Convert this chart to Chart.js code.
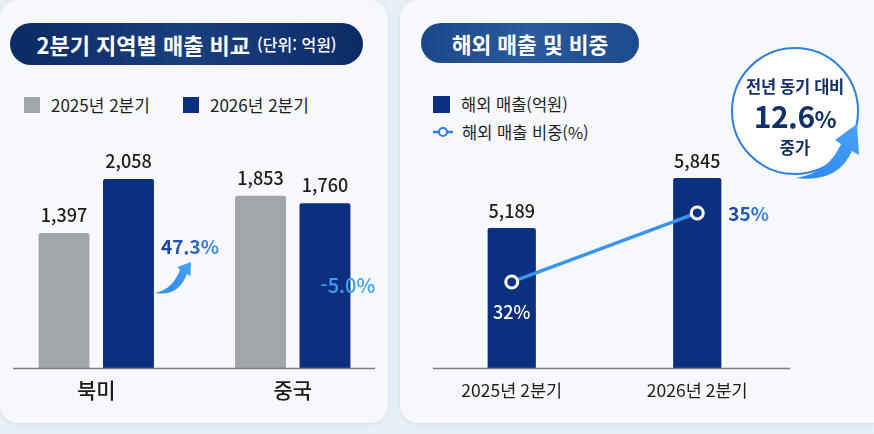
<!DOCTYPE html>
<html lang="ko">
<head>
<meta charset="utf-8">
<script src="https://cdn.jsdelivr.net/npm/chart.js@4.4.1/dist/chart.umd.min.js"></script>
<style>
    body { margin: 0; width: 874px; height: 434px; overflow: hidden; background: #e8eef7; font-family: "Noto Sans CJK KR", "Noto Sans", sans-serif; color: #1e1e1e; position: relative; }
    .card { position: absolute; top: 0; height: 423px; background: #f6f8fb; border-radius: 18px; box-shadow: 0 1px 4px rgba(40,70,120,0.08); }
    .pill { position: absolute; display: flex; align-items: center; justify-content: center; color: #fff; font-weight: 700; border-radius: 22px; white-space: nowrap; }
    .legend { position: absolute; display: flex; align-items: center; font-size: 17px; white-space: nowrap; }
    .sw { display: inline-block; width: 16px; height: 16px; margin-right: 11px; }
    canvas { position: absolute; top: 0; }
    .badge { position: absolute; left: 731px; top: 47px; width: 124px; height: 124px; border: 2px solid #2f7fe0; border-radius: 50%; background: #fff; text-align: center; color: #13306b; font-weight: 700; }
    svg { position: absolute; left: 0; top: 0; }
</style>
</head>
<body>
<div class="card" style="left:0; width:388px;"></div>
<div class="card" style="left:400px; width:490px;"></div>

<div class="pill" style="left:10px; top:23px; width:353px; height:42px; background:linear-gradient(90deg,#0b2a64,#1a3f7f 50%,#0c2b66);">
    <span style="font-size:22px;">2분기 지역별 매출 비교</span><span style="font-size:16px; font-weight:500; margin-left:7px;">(단위: 억원)</span>
</div>
<div class="pill" style="left:421px; top:23px; width:218px; height:40px; background:linear-gradient(90deg,#1a4788,#2b5b9c 50%,#1c4a8b); font-size:21.5px;">해외 매출 및 비중</div>

<div class="legend" style="left:24px; top:92px;"><span class="sw" style="background:#a2a5aa;"></span>2025년 2분기</div>
<div class="legend" style="left:183px; top:92px;"><span class="sw" style="background:#0c2f80;"></span>2026년 2분기</div>

<div class="legend" style="left:433px; top:92px; font-size:16.5px;"><span class="sw" style="background:#0c2f80; width:17px; height:17px;"></span>해외 매출(억원)</div>
<div class="legend" style="left:433px; top:120px; font-size:16.5px;">
    <svg width="22" height="12" style="position:static; margin-right:7px;"><line x1="0" y1="6" x2="20" y2="6" stroke="#2f7fe0" stroke-width="2.5"/><circle cx="10" cy="6" r="4" fill="#fff" stroke="#2f7fe0" stroke-width="2.2"/></svg>해외 매출 비중(%)
</div>

<canvas id="chartRegion" width="394" height="434" style="left:-2px;"></canvas>
<canvas id="chartOverseas" width="474" height="434" style="left:400px;"></canvas>

<div class="badge">
    <div style="font-size:16.5px; margin-top:25px; letter-spacing:-0.3px;">전년 동기 대비</div>
    <div id="badgeValue" style="font-size:30px; line-height:34px; margin-top:0px; letter-spacing:-0.5px;"></div>
    <div style="font-size:16.5px; margin-top:0px;">중가</div>
</div>

<svg width="874" height="434" viewBox="0 0 874 434">
    <defs>
        <linearGradient id="arrowGrad" x1="0" y1="1" x2="1" y2="0">
            <stop offset="0" stop-color="#2a86ec"/>
            <stop offset="1" stop-color="#4aa3f7"/>
        </linearGradient>
    </defs>
    <path d="M155,293 Q172,290 180,270 L177.5,267 L191,262 L190.5,276.3 L187,274 Q178,297 155,293 Z" fill="url(#arrowGrad)"/>
    <path d="M796,178 Q828,173 841,144 L835,140 L857,124 L859,155 L852,151 Q838,183 796,178 Z" fill="url(#arrowGrad)"/>
</svg>

<script>
    // data
    const regions = ['북미', '중국']
    const sales2025 = [1397, 1853]
    const sales2026 = [2058, 1760]

    const periods = ['2025년 2분기', '2026년 2분기']
    const overseasSales = [5189, 5845]
    const overseasShare = [32, 35]

    const NAVY = '#0c2f80'
    const GRAY = '#a2a5aa'
    const FONT = '"Noto Sans CJK KR", "Noto Sans", sans-serif'

    const fmt = (v) => v.toLocaleString('en-US')
    const pct = (a, b) => ((b - a) / a * 100).toFixed(1)

    document.getElementById('badgeValue').innerHTML =
        pct(overseasSales[0], overseasSales[1]) + '<span style="font-size:23px;">%</span>'

    const gradText = (ctx, x, w) => {
        let g = ctx.createLinearGradient(x, 0, x + w, 0)
        g.addColorStop(0, '#1b3d9c')
        g.addColorStop(0.6, '#2a64c8')
        g.addColorStop(1, '#3f97f2')
        return g
    }

    const regionLabels = {
        id: 'regionLabels',
        afterDatasetsDraw(chart) {
            const ctx = chart.ctx
            const area = chart.chartArea
            const xs = chart.scales.x

            ctx.save()
            // baseline
            ctx.strokeStyle = '#7a7e86'
            ctx.lineWidth = 1.5
            ctx.beginPath()
            ctx.moveTo(area.left + 15, area.bottom + 0.5)
            ctx.lineTo(area.right - 16, area.bottom + 0.5)
            ctx.stroke()

            // values above bars
            ctx.font = '500 18px ' + FONT
            ctx.fillStyle = '#1c1c1c'
            ctx.textAlign = 'center'
            ctx.textBaseline = 'middle'
            chart.data.datasets.forEach((ds, di) => {
                chart.getDatasetMeta(di).data.forEach((bar, i) => {
                    ctx.fillText(fmt(ds.data[i]), bar.x, bar.y - 18)
                })
            })

            // categories
            ctx.font = '500 21px ' + FONT
            regions.forEach((r, i) => ctx.fillText(r, xs.getPixelForValue(i), area.bottom + 22))

            // change labels
            const newBars = chart.getDatasetMeta(1).data
            ctx.textAlign = 'left'
            regions.forEach((r, i) => {
                let txt = pct(sales2025[i], sales2026[i]) + '%'
                let bar = newBars[i]
                if (sales2026[i] >= sales2025[i]) {
                    ctx.font = '700 19px ' + FONT
                    let x = bar.x + bar.width / 2 + 7
                    let w = ctx.measureText(txt).width
                    ctx.fillStyle = gradText(ctx, x, w)
                    ctx.fillText(txt, x, (bar.y + bar.base) / 2 - 27)
                } else {
                    ctx.font = '500 20px ' + FONT
                    ctx.fillStyle = '#3fa0f2'
                    ctx.fillText(txt, bar.x - bar.width / 2 + 21, (bar.y + bar.base) / 2)
                }
            })
            ctx.restore()
        }
    }

    const overseasLabels = {
        id: 'overseasLabels',
        afterDatasetsDraw(chart) {
            const ctx = chart.ctx
            const area = chart.chartArea
            const xs = chart.scales.x

            ctx.save()
            ctx.strokeStyle = '#7a7e86'
            ctx.lineWidth = 1.5
            ctx.beginPath()
            ctx.moveTo(area.left + 14, area.bottom + 0.5)
            ctx.lineTo(area.right, area.bottom + 0.5)
            ctx.stroke()

            ctx.textAlign = 'center'
            ctx.textBaseline = 'middle'
            ctx.font = '500 18px ' + FONT
            ctx.fillStyle = '#1c1c1c'
            chart.getDatasetMeta(1).data.forEach((bar, i) => {
                ctx.fillText(fmt(overseasSales[i]), bar.x, bar.y - 17)
            })

            ctx.font = '400 17.5px ' + FONT
            periods.forEach((p, i) => ctx.fillText(p, xs.getPixelForValue(i), area.bottom + 22))

            const pts = chart.getDatasetMeta(0).data
            // first share label sits inside the bar, second to the right
            ctx.font = '500 18px ' + FONT
            ctx.fillStyle = '#ffffff'
            ctx.fillText(overseasShare[0] + '%', pts[0].x, pts[0].y + 30)

            ctx.textAlign = 'left'
            ctx.font = '700 19px ' + FONT
            let txt = overseasShare[1] + '%'
            let x = pts[1].x + 31
            ctx.fillStyle = gradText(ctx, x, ctx.measureText(txt).width)
            ctx.fillText(txt, x, pts[1].y + 1)
            ctx.restore()
        }
    }

    new Chart(document.getElementById('chartRegion').getContext('2d'), {
        type: 'bar',
        data: {
            labels: regions,
            datasets: [
                { label: '2025년 2분기', data: sales2025, backgroundColor: GRAY, base: -250 },
                { label: '2026년 2분기', data: sales2026, backgroundColor: NAVY, base: -250 }
            ]
        },
        options: {
            responsive: false,
            animation: false,
            layout: { padding: { left: 0, right: 1, top: 140, bottom: 66 } },
            datasets: { bar: { categoryPercentage: 0.656, barPercentage: 0.79, borderRadius: 2, borderSkipped: 'bottom' } },
            plugins: { legend: { display: false }, tooltip: { enabled: false } },
            scales: {
                x: { display: false },
                y: { display: false, min: -250, max: 2533 }
            }
        },
        plugins: [regionLabels]
    })

    new Chart(document.getElementById('chartOverseas').getContext('2d'), {
        type: 'bar',
        data: {
            labels: periods,
            datasets: [
                {
                    type: 'line', label: '해외 매출 비중(%)', data: overseasShare, yAxisID: 'y2', order: 0,
                    borderColor: '#3b95ef', borderWidth: 3.5,
                    pointRadius: 6, pointBorderWidth: 3, pointBorderColor: '#ffffff', pointBackgroundColor: NAVY
                },
                {
                    label: '해외 매출(억원)', data: overseasSales, yAxisID: 'y', order: 1,
                    backgroundColor: NAVY, borderRadius: 2, borderSkipped: 'bottom',
                    categoryPercentage: 0.26, barPercentage: 1
                }
            ]
        },
        options: {
            responsive: false,
            animation: false,
            layout: { padding: { left: 19, right: 84, top: 140, bottom: 66 } },
            plugins: { legend: { display: false }, tooltip: { enabled: false } },
            scales: {
                x: { display: false },
                y: { display: false, min: 3352, max: 6344 },
                y2: { display: false, position: 'right', min: 28.26, max: 38.17 }
            }
        },
        plugins: [overseasLabels]
    })
</script>
</body>
</html>
